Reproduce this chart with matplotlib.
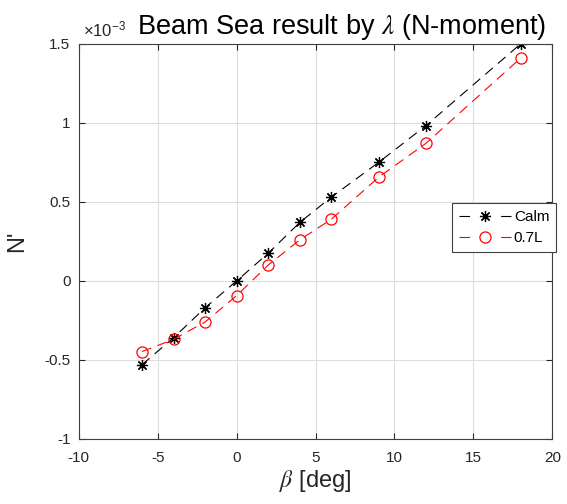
import matplotlib
matplotlib.use("Agg")
import matplotlib.pyplot as plt

plt.rcParams['font.family'] = ['Liberation Sans', 'DejaVu Sans']
plt.rcParams['mathtext.fontset'] = 'stix'
plt.rcParams['axes.unicode_minus'] = False

# beta [deg] and N' values (x 1e-3)
beta = [-6, -4, -2, 0, 2, 4, 6, 9, 12, 18]
calm = [-0.53, -0.36, -0.17, 0.0, 0.175, 0.37, 0.53, 0.75, 0.983, 1.50]
lam07 = [-0.447, -0.37, -0.26, -0.093, 0.10, 0.26, 0.39, 0.656, 0.871, 1.41]

xticks = [-10, -5, 0, 5, 10, 15, 20]
yticks = [-1, -0.5, 0, 0.5, 1, 1.5]

fig = plt.figure(figsize=(5.67, 5.04), dpi=100)
ax = fig.add_axes([0.139, 0.129, 0.835, 0.784])

ax.plot(beta, calm, color='black', linestyle='--', dashes=(9, 6), linewidth=0.8,
        marker=(8, 2, 0), markersize=8, markeredgewidth=0.9, label='Calm')
ax.plot(beta, lam07, color='red', linestyle='--', dashes=(9, 6), linewidth=0.8,
        marker='o', markersize=8, markerfacecolor='none', markeredgewidth=0.9, label='0.7L')

ax.set_xlim(-10, 20)
ax.set_ylim(-1, 1.5)
ax.set_xticks(xticks)
ax.set_yticks(yticks)
ax.set_yticklabels([f"{v:g}" for v in yticks])
ax.grid(True, color='#dcdcdc', linewidth=0.8)
ax.set_axisbelow(True)
ax.tick_params(direction='in', top=True, right=True, labelsize=11,
               colors='#262626', length=4)
ax.tick_params(axis='x', pad=9)
ax.tick_params(axis='y', pad=6)
for s in ax.spines.values():
    s.set_color('#404040')
    s.set_linewidth(0.8)

ax.set_title(r"Beam Sea result by $\lambda$ (N-moment)", fontsize=19.5, pad=7, x=0.555)
ax.set_xlabel(r"$\beta$ [deg]", fontsize=17, color='#262626', labelpad=2)
ax.set_ylabel("N'", fontsize=17, color='#262626', labelpad=12)
ax.text(0.008, 1.012, r"$\mathregular{\times10^{-3}}$", transform=ax.transAxes, fontsize=12,
        color='#262626', ha='left', va='bottom')

leg = ax.legend(loc='upper left', bbox_to_anchor=(0.797, 0.597),
                bbox_transform=fig.transFigure, fontsize=11, fancybox=False,
                framealpha=1, edgecolor='#404040', handlelength=3.4,
                borderpad=0.45, labelspacing=0.45, handletextpad=0.2,
                borderaxespad=0)
leg.get_frame().set_linewidth(0.8)
# legend handles: short dash - marker - short dash
for ln in leg.get_lines():
    ln.set_dashes((9.5, 28))

fig.savefig("out.png", dpi=100)
